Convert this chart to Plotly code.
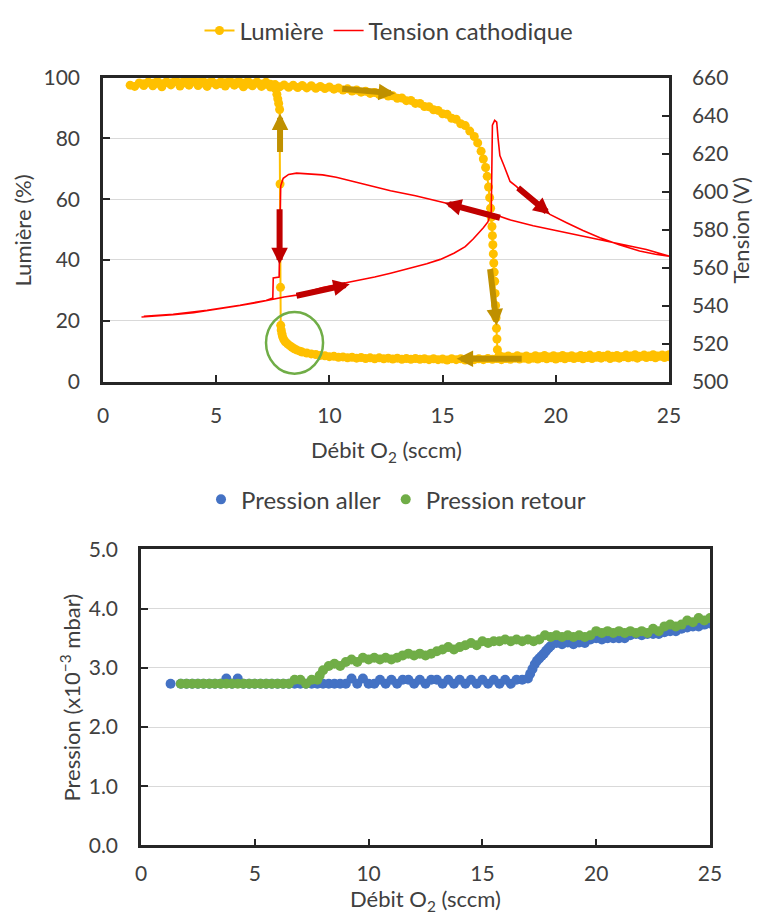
import plotly.graph_objects as go

# ---------------- DATA ----------------
# Lumière (%) : aller (forward sweep)
lum_aller_x = [1.2, 1.4, 1.6, 1.8, 2.0, 2.2, 2.4, 2.6, 2.8, 3.0, 3.2, 3.4, 3.6, 3.7, 3.8, 4.0, 4.2, 4.4,
               4.6, 4.8, 5.0, 5.2, 5.4, 5.6, 5.8, 6.0, 6.2, 6.4, 6.6, 6.8, 7.0, 7.2, 7.4, 7.6, 7.8, 8.0,
               8.2, 8.4, 8.6, 8.8, 9.0, 9.2, 9.4, 9.6, 9.8, 10.0, 10.2, 10.4, 10.6, 10.8, 11.0, 11.2,
               11.4, 11.6, 11.8, 12.0, 12.2, 12.4, 12.6, 12.8, 13.0, 13.2, 13.4, 13.6, 13.8, 14.0, 14.2,
               14.4, 14.6, 14.8, 15.0, 15.2, 15.4, 15.6, 15.8, 16.0, 16.2, 16.4, 16.55, 16.7, 16.8, 16.9,
               16.97, 17.03, 17.08, 17.12, 17.15, 17.18, 17.2, 17.22, 17.24, 17.26, 17.28, 17.3, 17.32,
               17.34, 17.36, 17.38, 17.4, 17.42, 17.5, 17.7, 17.9, 18.1, 18.3, 18.5, 18.7, 18.9, 19.1,
               19.3, 19.5, 19.7, 19.9, 20.1, 20.3, 20.5, 20.7, 20.9, 21.1, 21.3, 21.5, 21.7, 21.9, 22.1,
               22.3, 22.5, 22.7, 22.9, 23.1, 23.3, 23.5, 23.7, 23.9, 24.1, 24.3, 24.5, 24.7, 24.9, 25.0]
lum_aller_y = [97.5, 97.1, 98.2, 97.4, 98.5, 97.3, 98.1, 97.0, 98.4, 97.6, 98.7, 97.2, 98.3, 99.8, 97.5,
               98.6, 97.4, 98.2, 97.1, 98.4, 97.6, 98.0, 97.2, 98.3, 97.5, 98.1, 97.0, 97.9, 97.3, 98.2,
               97.1, 97.8, 96.9, 97.7, 97.0, 97.6, 96.8, 97.5, 96.7, 97.4, 96.6, 97.3, 96.5, 97.1, 96.4,
               96.9, 96.2, 96.6, 95.9, 96.3, 95.6, 95.9, 95.2, 95.5, 94.8, 95.1, 94.4, 94.6, 93.9, 94.0,
               93.2, 93.3, 92.4, 92.5, 91.5, 91.5, 90.5, 90.4, 89.4, 89.2, 88.1, 87.9, 86.6, 86.3, 84.8,
               84.2, 82.4, 80.6, 78.5, 75.8, 73.2, 70.4, 67.5, 64.0, 60.5, 57.0, 54.0, 51.0, 48.0, 45.0,
               42.0, 39.0, 36.0, 33.0, 29.0, 25.0, 21.0, 17.5, 14.0, 10.5, 8.6, 8.1, 8.4, 8.0, 8.5, 8.1,
               8.4, 8.0, 8.5, 8.2, 8.6, 8.1, 8.5, 8.2, 8.6, 8.2, 8.5, 8.1, 8.6, 8.3, 8.7, 8.2, 8.6, 8.3,
               8.7, 8.3, 8.6, 8.2, 8.7, 8.4, 8.8, 8.3, 8.7, 8.4, 8.8, 8.4, 8.7, 8.5, 8.8]
# Lumière (%) : retour (return sweep)
lum_retour_x = [25.0, 24.8, 24.6, 24.4, 24.2, 24.0, 23.8, 23.6, 23.4, 23.2, 23.0, 22.8, 22.6, 22.4, 22.2,
                22.0, 21.8, 21.6, 21.4, 21.2, 21.0, 20.8, 20.6, 20.4, 20.2, 20.0, 19.8, 19.6, 19.4, 19.2,
                19.0, 18.8, 18.6, 18.4, 18.2, 18.0, 17.8, 17.6, 17.4, 17.2, 17.0, 16.8, 16.6, 16.4, 16.2,
                16.0, 15.8, 15.6, 15.4, 15.2, 15.0, 14.8, 14.6, 14.4, 14.2, 14.0, 13.8, 13.6, 13.4, 13.2,
                13.0, 12.8, 12.6, 12.4, 12.2, 12.0, 11.8, 11.6, 11.4, 11.2, 11.0, 10.8, 10.6, 10.4, 10.2,
                10.0, 9.8, 9.6, 9.4, 9.2, 9.0, 8.8, 8.7, 8.55, 8.45, 8.35, 8.25, 8.15, 8.05, 7.98, 7.93,
                7.9, 7.87, 7.85, 7.84, 7.82, 7.8, 7.76, 7.72, 7.68, 7.6, 7.4, 7.2, 7.0, 6.8, 6.6, 6.4,
                6.2, 6.0, 5.8, 5.6, 5.4, 5.2, 5.0, 4.8, 4.6, 4.4, 4.2, 4.0, 3.8, 3.6, 3.4, 3.2, 3.0, 2.8,
                2.6, 2.4, 2.2, 2.0, 1.8]
lum_retour_y = [8.2, 7.9, 8.3, 7.8, 8.2, 7.9, 8.3, 7.7, 8.1, 7.8, 8.2, 7.7, 8.0, 7.6, 8.1, 7.7, 8.0, 7.6,
                7.9, 7.5, 7.9, 7.6, 7.9, 7.5, 7.8, 7.4, 7.8, 7.5, 7.8, 7.4, 7.7, 7.3, 7.7, 7.4, 7.7, 7.3,
                7.6, 7.2, 7.6, 7.3, 7.6, 7.2, 7.5, 7.2, 7.5, 7.1, 7.5, 7.2, 7.5, 7.1, 7.4, 7.2, 7.5, 7.2,
                7.5, 7.3, 7.6, 7.3, 7.6, 7.3, 7.7, 7.4, 7.7, 7.5, 7.8, 7.5, 7.8, 7.6, 7.9, 7.7, 8.0, 7.8,
                8.1, 8.0, 8.3, 8.2, 8.5, 8.6, 8.9, 9.1, 9.4, 9.7, 10.0, 10.4, 10.8, 11.3, 11.8, 12.4,
                13.1, 13.9, 14.8, 15.8, 17.0, 18.5, 31.0, 65.0, 89.5, 91.5, 93.0, 94.5, 96.5, 97.8, 98.5,
                97.9, 98.6, 98.0, 98.8, 98.1, 98.7, 98.2, 98.9, 98.3, 98.6, 98.0, 98.8, 98.2, 98.9, 98.4,
                98.7, 98.1, 98.8, 98.3, 98.9, 98.2, 98.6, 98.0, 98.7, 98.1, 98.5, 98.0]

# Tension cathodique (V) : aller then retour
ten_aller_x = [1.7, 2.5, 3.1, 4.0, 4.6, 5.3, 6.05, 6.7, 7.2, 7.5, 8.0, 8.55, 9.1, 9.7, 10.4, 11.2, 12.0,
               12.7, 13.5, 14.3, 14.9, 15.5, 16.0, 16.35, 16.8, 17.0, 17.15, 17.17, 17.2, 17.3, 17.39,
               17.45, 17.53, 17.7, 17.82, 17.98, 18.27, 18.6, 19.0, 19.74, 20.5, 21.2, 21.95, 22.8,
               23.7, 24.4, 25.0]
ten_aller_y = [534.0, 534.5, 535.2, 536.3, 537.3, 538.5, 540.0, 541.3, 542.5, 543.5, 544.5, 545.5, 547.5,
               549.5, 551.2, 553.0, 555.0, 557.0, 559.5, 562.0, 564.3, 567.5, 571.0, 575.0, 580.9, 584.0,
               589.6, 615.0, 635.0, 637.5, 636.6, 628.0, 619.0, 614.0, 610.5, 605.3, 602.6, 598.5,
               594.5, 588.0, 583.5, 579.5, 575.7, 572.0, 568.7, 567.0, 566.0]
ten_retour_x = [25.0, 24.0, 23.0, 22.0, 21.0, 20.0, 19.0, 18.0, 17.1, 16.0, 14.9, 13.8, 12.7, 11.2, 10.3,
                9.7, 9.0, 8.55, 8.2, 7.96, 7.85, 7.82, 7.8, 7.78, 7.6, 7.52, 7.5, 7.2, 6.05, 4.6, 3.1,
                1.8]
ten_retour_y = [566.0, 569.5, 572.0, 574.5, 577.0, 579.5, 582.0, 585.0, 588.7, 591.5, 594.8, 597.8, 600.4,
                605.0, 607.5, 608.8, 609.5, 609.7, 609.0, 607.0, 603.0, 590.0, 570.0, 555.0, 554.8, 554.5,
                544.0, 542.7, 540.2, 537.5, 535.4, 534.3]

# Pression (x10^-3 mbar) : aller
pa_x = [1.3, 1.75, 2.0, 2.25, 2.5, 2.75, 3.0, 3.25, 3.5, 3.75, 4.0, 4.25, 4.5, 4.75, 5.0, 5.25, 5.5, 5.75,
        6.0, 6.25, 6.5, 6.75, 7.0, 7.25, 7.5, 7.75, 8.0, 8.25, 8.5, 8.75, 9.0, 9.25, 9.5, 9.75, 10.0,
        10.25, 10.5, 10.75, 11.0, 11.25, 11.5, 11.75, 12.0, 12.25, 12.5, 12.75, 13.0, 13.25, 13.5, 13.75,
        14.0, 14.25, 14.5, 14.75, 15.0, 15.25, 15.5, 15.75, 16.0, 16.25, 16.5, 16.75, 17.0, 17.1, 17.2,
        17.3, 17.4, 17.5, 17.6, 17.7, 17.8, 17.9, 18.0, 18.25, 18.5, 18.75, 19.0, 19.25, 19.5, 19.75,
        20.0, 20.25, 20.5, 20.75, 21.0, 21.25, 21.5, 21.75, 22.0, 22.25, 22.5, 22.75, 23.0, 23.25, 23.5,
        23.75, 24.0, 24.25, 24.5, 24.75, 25.0, 25.0]
pa_y = [2.73, 2.73, 2.73, 2.73, 2.73, 2.73, 2.73, 2.73, 2.73, 2.82, 2.73, 2.82, 2.73, 2.73, 2.73, 2.73,
        2.73, 2.73, 2.73, 2.73, 2.73, 2.73, 2.73, 2.73, 2.73, 2.73, 2.73, 2.73, 2.73, 2.73, 2.73, 2.82,
        2.73, 2.82, 2.73, 2.73, 2.8, 2.73, 2.8, 2.73, 2.8, 2.8, 2.73, 2.8, 2.73, 2.8, 2.8, 2.73, 2.8,
        2.73, 2.8, 2.73, 2.8, 2.73, 2.8, 2.73, 2.8, 2.73, 2.8, 2.73, 2.8, 2.8, 2.82, 2.9, 2.98, 3.06,
        3.12, 3.16, 3.2, 3.24, 3.29, 3.33, 3.37, 3.42, 3.4, 3.43, 3.4, 3.43, 3.42, 3.48, 3.5, 3.48, 3.5,
        3.5, 3.5, 3.5, 3.55, 3.57, 3.55, 3.57, 3.57, 3.57, 3.6, 3.62, 3.62, 3.66, 3.68, 3.7, 3.7, 3.73,
        3.75, 3.82]
# Pression (x10^-3 mbar) : retour
pr_x = [25.0, 24.75, 24.5, 24.25, 24.0, 23.75, 23.5, 23.25, 23.0, 22.75, 22.5, 22.25, 22.0, 21.75, 21.5,
        21.25, 21.0, 20.75, 20.5, 20.25, 20.0, 19.75, 19.5, 19.25, 19.0, 18.75, 18.5, 18.25, 18.0, 17.75,
        17.5, 17.25, 17.0, 16.75, 16.5, 16.25, 16.0, 15.75, 15.5, 15.25, 15.0, 14.75, 14.5, 14.25, 14.0,
        13.75, 13.5, 13.25, 13.0, 12.75, 12.5, 12.25, 12.0, 11.75, 11.5, 11.25, 11.0, 10.75, 10.5, 10.25,
        10.0, 9.75, 9.5, 9.25, 9.0, 8.75, 8.5, 8.25, 8.0, 7.85, 7.75, 7.5, 7.25, 7.0, 6.75, 6.5, 6.25,
        6.0, 5.75, 5.5, 5.25, 5.0, 4.75, 4.5, 4.25, 4.0, 3.75, 3.5, 3.25, 3.0, 2.75, 2.5, 2.25, 2.0,
        1.75]
pr_y = [3.84, 3.8, 3.84, 3.77, 3.8, 3.73, 3.7, 3.73, 3.7, 3.62, 3.66, 3.59, 3.62, 3.59, 3.62, 3.59, 3.62,
        3.59, 3.62, 3.59, 3.62, 3.55, 3.52, 3.55, 3.52, 3.55, 3.52, 3.55, 3.52, 3.55, 3.48, 3.45, 3.48,
        3.45, 3.48, 3.45, 3.48, 3.45, 3.45, 3.42, 3.45, 3.38, 3.42, 3.38, 3.35, 3.31, 3.35, 3.31, 3.28,
        3.24, 3.21, 3.24, 3.21, 3.24, 3.21, 3.17, 3.14, 3.17, 3.14, 3.17, 3.14, 3.17, 3.1, 3.14, 3.1,
        3.03, 3.07, 3.03, 2.96, 2.87, 2.8, 2.8, 2.73, 2.8, 2.8, 2.73, 2.73, 2.73, 2.73, 2.73, 2.73, 2.73,
        2.73, 2.73, 2.73, 2.73, 2.73, 2.73, 2.73, 2.73, 2.73, 2.73, 2.73, 2.73, 2.73]

# Direction arrows (tail -> head), in data units
gold_arrows = [((10.5, 96.4), (12.9, 94.8)), ((7.82, 75.0), (7.82, 88.2)),
               ((17.09, 37.5), (17.39, 18.4)), ((18.56, 7.5), (15.62, 7.5))]
red_arrows = [((7.8, 591.5), (7.8, 561.7)), ((8.48, 545.0), (10.9, 551.2)),
              ((17.6, 586.0), (15.1, 594.0)), ((18.27, 602.6), (19.74, 588.0))]
circle_box = (7.2, 9.72, 2.6, 22.9)

# ---------------- FIGURE ----------------
FONT = "Lato"
TXT = "#404040"
AX = "#262626"
GRID = "#D9D9D9"
OFF = 8                      # page body margin
W, H = 767 - 2 * OFF, 921 - 2 * OFF

def px_x(p):
    return (p - OFF) / W

def px_y(p):
    return 1 - (p - OFF) / H

fig = go.Figure()

fig.add_trace(go.Scatter(
    x=lum_aller_x + lum_retour_x, y=lum_aller_y + lum_retour_y,
    mode="lines+markers", name="Lumière",
    line=dict(color="#FFC000", width=2),
    marker=dict(color="#FFC000", size=9),
    xaxis="x", yaxis="y", legend="legend"))
fig.add_trace(go.Scatter(
    x=ten_aller_x + ten_retour_x, y=ten_aller_y + ten_retour_y,
    mode="lines", name="Tension cathodique",
    line=dict(color="#FF0000", width=1.6),
    xaxis="x", yaxis="y2", legend="legend"))

fig.add_trace(go.Scatter(
    x=pa_x, y=pa_y, mode="markers", name="Pression aller",
    marker=dict(color="#4472C4", size=10),
    xaxis="x2", yaxis="y3", legend="legend2"))
fig.add_trace(go.Scatter(
    x=pr_x, y=pr_y, mode="markers", name="Pression retour",
    marker=dict(color="#70AD47", size=10),
    xaxis="x2", yaxis="y3", legend="legend2"))

tickfont = dict(family=FONT, size=21, color=TXT)
common = dict(showline=True, linecolor=AX, linewidth=2.5, ticks="inside", ticklen=7,
              tickwidth=1.5, tickcolor=AX, tickfont=tickfont, zeroline=False,
              automargin=False)

annotations = []
for (tx, ty), (hx, hy) in gold_arrows:
    annotations.append(dict(x=hx, y=hy, ax=tx, ay=ty, xref="x", yref="y", axref="x", ayref="y",
                            text="", showarrow=True, arrowhead=2, arrowsize=0.55, arrowwidth=6,
                            arrowcolor="#BF9000", standoff=0, startstandoff=0))
for (tx, ty), (hx, hy) in red_arrows:
    annotations.append(dict(x=hx, y=hy, ax=tx, ay=ty, xref="x", yref="y2", axref="x", ayref="y2",
                            text="", showarrow=True, arrowhead=2, arrowsize=0.55, arrowwidth=6,
                            arrowcolor="#C00000", standoff=0, startstandoff=0))

titlefont = dict(family=FONT, size=22, color=TXT)
annotations += [
    dict(text="Lumière (%)", x=px_x(23), y=px_y(226), xref="paper", yref="paper", showarrow=False,
         textangle=-90, font=titlefont, xanchor="center", yanchor="middle"),
    dict(text="Tension (V)", x=px_x(741), y=px_y(226), xref="paper", yref="paper", showarrow=False,
         textangle=-90, font=titlefont, xanchor="center", yanchor="middle"),
    dict(text="Débit O<sub>2</sub> (sccm)", x=px_x(386), y=px_y(448), xref="paper", yref="paper",
         showarrow=False, font=titlefont, xanchor="center", yanchor="middle"),
    dict(text="Pression (x10<sup>−3</sup> mbar)", x=px_x(70), y=px_y(696), xref="paper", yref="paper",
         showarrow=False, textangle=-90, font=titlefont, xanchor="center", yanchor="middle"),
    dict(text="Débit O<sub>2</sub> (sccm)", x=px_x(425), y=px_y(900), xref="paper", yref="paper",
         showarrow=False, font=titlefont, xanchor="center", yanchor="middle"),
]

fig.update_layout(
    width=W, height=H,
    margin=dict(l=0, r=0, t=0, b=0),
    paper_bgcolor="white", plot_bgcolor="white",
    font=dict(family=FONT, color=TXT),
    xaxis=dict(domain=[px_x(103), px_x(669)], range=[0, 25], dtick=5, anchor="y", mirror=True,
               showgrid=False, ticklabelstandoff=14, **common),
    yaxis=dict(domain=[px_y(378), px_y(72)], range=[0, 100], dtick=20, anchor="x", mirror=True,
               showgrid=True, gridcolor=GRID, gridwidth=1, ticklabelstandoff=16, **common),
    yaxis2=dict(domain=[px_y(378), px_y(72)], range=[500, 660], dtick=20, anchor="x", overlaying="y",
                side="right", showgrid=False, ticklabelstandoff=16, **common),
    xaxis2=dict(domain=[px_x(141), px_x(710)], range=[0, 25], dtick=5, anchor="y3", mirror=True,
                showgrid=False, ticklabelstandoff=8, **common),
    yaxis3=dict(domain=[px_y(845), px_y(547)], range=[0, 5], dtick=1, tickformat=".1f", anchor="x2",
                mirror=True, showgrid=True, gridcolor=GRID, gridwidth=1, ticklabelstandoff=16, **common),
    legend=dict(orientation="h", x=px_x(389), y=px_y(25), xanchor="center", yanchor="middle",
                font=dict(family=FONT, size=24, color=TXT), bgcolor="rgba(0,0,0,0)"),
    legend2=dict(orientation="h", x=px_x(396), y=px_y(497), xanchor="center", yanchor="middle",
                 font=dict(family=FONT, size=24, color=TXT), bgcolor="rgba(0,0,0,0)"),
    annotations=annotations,
    shapes=[dict(type="circle", xref="x", yref="y", x0=circle_box[0], x1=circle_box[1],
                 y0=circle_box[2], y1=circle_box[3], line=dict(color="#70AD47", width=2.5))],
)

fig.write_html("out.html")
